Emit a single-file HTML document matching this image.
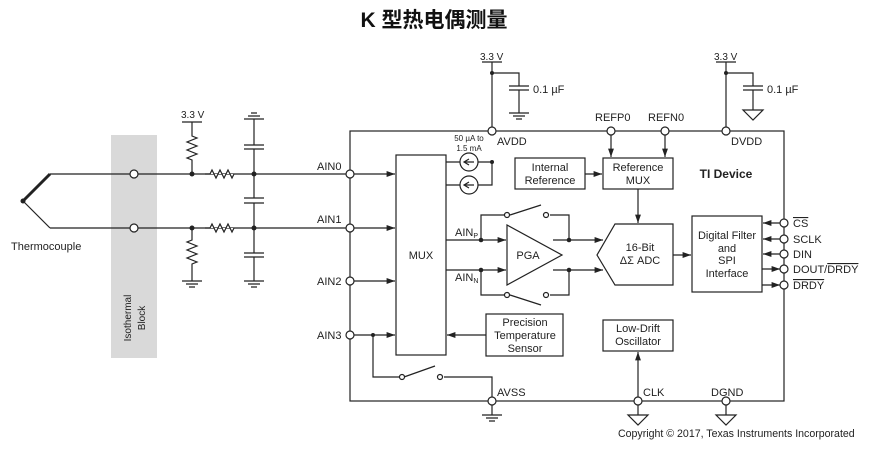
<!DOCTYPE html>
<html><head><meta charset="utf-8"><style>
body{margin:0;background:#fff}
svg{display:block}
text{font-family:"Liberation Sans",sans-serif;font-size:11px;fill:#222}
</style></head><body>
<svg width="887" height="458" viewBox="0 0 887 458" xmlns="http://www.w3.org/2000/svg">
<defs>
<marker id="a" viewBox="0 0 10 10" refX="10" refY="5" markerWidth="7" markerHeight="7" orient="auto"><path d="M0,1.5 L10,5 L0,8.5z" fill="#222"/></marker>
</defs>
<text x="434" y="27" text-anchor="middle" style="font-family:'Liberation Sans','Noto Sans CJK SC',sans-serif;font-size:21px;font-weight:bold;fill:#111">K 型热电偶测量</text>
<rect x="111" y="135" width="46" height="223" fill="#d9d9d9"/>
<text transform="translate(131,318) rotate(-90)" text-anchor="middle" style="font-size:10px">Isothermal</text>
<text transform="translate(145,318) rotate(-90)" text-anchor="middle" style="font-size:10px">Block</text>
<g stroke="#222" stroke-width="1.2" fill="none">
<path d="M23,201 L50,174" stroke-width="3"/>
<path d="M23,201 L50,228"/>
<path d="M50,174 H350 M50,228 H350"/>
<path d="M192,174 V160 l-5,-2 10,-4 -10,-4 10,-4 -10,-4 10,-4 -5,-2 V122"/>
<path d="M182,122 H202"/>
<path d="M192,228 V240 l-5,2 10,4 -10,4 10,4 -10,4 10,4 -5,2 V281"/>
<path d="M182,281 H202 M186,284 H198 M189,287 H195"/>
<path d="M205,174 h5 l2,-4 4,8 4,-8 4,8 4,-8 4,8 2,-4" fill="#fff"/>
<path d="M205,228 h5 l2,-4 4,8 4,-8 4,8 4,-8 4,8 2,-4" fill="#fff"/>
<path d="M254,119 V145 M244,145 H264 M244,149 H264 M254,149 V198 M244,198 H264 M244,203 H264 M254,203 V253 M244,253 H264 M244,257 H264 M254,257 V281"/>
<path d="M244,119 H264 M248,116 H260 M251,113 H257"/>
<path d="M244,281 H264 M248,284 H260 M251,287 H257"/>
<rect x="350" y="131" width="434" height="270"/>
<rect x="396" y="155" width="50" height="200"/>
<path d="M350,174 H395" marker-end="url(#a)"/>
<path d="M350,228 H395" marker-end="url(#a)"/>
<path d="M350,281 H395" marker-end="url(#a)"/>
<path d="M350,335 H395" marker-end="url(#a)"/>
<path d="M373,335 V377 H400 M404,377 L435,366 M444,377 H492 V401"/>
<path d="M492,401 V415 M482,415 H502 M486,418 H498 M489,421 H495"/>
<path d="M482,62 H502 M492,62 V131 M492,73 H519 V86 M509,86 H529 M509,90 H529 M519,90 V113 M509,113 H529 M513,116 H525 M516,119 H522"/>
<path d="M716,62 H736 M726,62 V131 M726,73 H753 V86 M743,86 H763 M743,90 H763 M753,90 V110 M743,110 H763 L753,120 Z"/>
<path d="M446,162 H460 M478,162 H492 M446,185 H460 M478,185 H492 V162"/>
<circle cx="469" cy="162" r="9" fill="#fff"/>
<circle cx="469" cy="185" r="9" fill="#fff"/>
<path d="M474,162 H465 M469,159 L464,162 469,165" />
<path d="M474,185 H465 M469,182 L464,185 469,188"/>
<rect x="515" y="158" width="70" height="31"/>
<rect x="603" y="158" width="70" height="31"/>
<path d="M585,174 H602" marker-end="url(#a)"/>
<path d="M611,131 V157" marker-end="url(#a)"/>
<path d="M665,131 V157" marker-end="url(#a)"/>
<path d="M638,189 V223" marker-end="url(#a)"/>
<path d="M507,225 L507,285 L562,255 Z"/>
<path d="M446,240 H506" marker-end="url(#a)"/>
<path d="M446,270 H506" marker-end="url(#a)"/>
<path d="M481,240 V215 H506 M510,215 L541,205 M550,215 H569 V240"/>
<path d="M481,270 V295 H506 M510,295 L541,305 M550,295 H569 V270"/>
<path d="M553,240 H603" marker-end="url(#a)"/>
<path d="M553,270 H603" marker-end="url(#a)"/>
<path d="M615,224 H673 V285 H615 L597,255 Z"/>
<path d="M673,255 H691" marker-end="url(#a)"/>
<rect x="692" y="216" width="70" height="76"/>
<path d="M780,223 H763" marker-end="url(#a)"/>
<path d="M780,239 H763" marker-end="url(#a)"/>
<path d="M780,254 H763" marker-end="url(#a)"/>
<path d="M762,269 H780" marker-end="url(#a)"/>
<path d="M762,285 H780" marker-end="url(#a)"/>
<rect x="486" y="314" width="77" height="42"/>
<path d="M486,335 H447" marker-end="url(#a)"/>
<rect x="603" y="320" width="70" height="31"/>
<path d="M638,401 V352" marker-end="url(#a)"/>
<path d="M638,401 V415 M628,415 H648 L638,425 Z"/>
<path d="M726,401 V415 M716,415 H736 L726,425 Z"/>
</g>
<g fill="#222">
<circle cx="23" cy="201" r="2.5"/>
<circle cx="192" cy="174" r="2.5"/><circle cx="192" cy="228" r="2.5"/>
<circle cx="254" cy="174" r="2.5"/><circle cx="254" cy="228" r="2.5"/>
<circle cx="373" cy="335" r="2"/>
<circle cx="492" cy="73" r="2"/><circle cx="726" cy="73" r="2"/>
<circle cx="492" cy="162" r="2"/>
<circle cx="481" cy="240" r="2.3"/><circle cx="481" cy="270" r="2.3"/>
<circle cx="569" cy="240" r="2.3"/><circle cx="569" cy="270" r="2.3"/>
</g>
<g fill="#fff" stroke="#222" stroke-width="1.2">
<circle cx="134" cy="174" r="4"/><circle cx="134" cy="228" r="4"/>
<circle cx="350" cy="174" r="4"/><circle cx="350" cy="228" r="4"/><circle cx="350" cy="281" r="4"/><circle cx="350" cy="335" r="4"/>
<circle cx="492" cy="131" r="4"/><circle cx="611" cy="131" r="4"/><circle cx="665" cy="131" r="4"/><circle cx="726" cy="131" r="4"/>
<circle cx="492" cy="401" r="4"/><circle cx="638" cy="401" r="4"/><circle cx="726" cy="401" r="4"/>
<circle cx="784" cy="223" r="4"/><circle cx="784" cy="239" r="4"/><circle cx="784" cy="254" r="4"/><circle cx="784" cy="269" r="4"/><circle cx="784" cy="285" r="4"/>
<circle cx="507" cy="215" r="2.5"/><circle cx="546" cy="215" r="2.5"/>
<circle cx="507" cy="295" r="2.5"/><circle cx="546" cy="295" r="2.5"/>
<circle cx="402" cy="377" r="2.5"/><circle cx="440" cy="377" r="2.5"/>
</g>
<text x="11" y="250">Thermocouple</text>
<text x="181" y="118" style="font-size:10px">3.3 V</text>
<text x="317" y="170">AIN0</text><text x="317" y="223">AIN1</text><text x="317" y="285">AIN2</text><text x="317" y="339">AIN3</text>
<text x="421" y="259" text-anchor="middle">MUX</text>
<text x="480" y="60" style="font-size:10px">3.3 V</text>
<text x="714" y="60" style="font-size:10px">3.3 V</text>
<text x="533" y="93">0.1 µF</text><text x="767" y="93">0.1 µF</text>
<text x="595" y="121">REFP0</text><text x="648" y="121">REFN0</text>
<text x="497" y="145">AVDD</text><text x="731" y="145">DVDD</text>
<text x="469" y="141" text-anchor="middle" style="font-size:8px">50 µA to</text>
<text x="469" y="151" text-anchor="middle" style="font-size:8px">1.5 mA</text>
<text x="550" y="171" text-anchor="middle">Internal</text><text x="550" y="184" text-anchor="middle">Reference</text>
<text x="638" y="171" text-anchor="middle">Reference</text><text x="638" y="184" text-anchor="middle">MUX</text>
<text x="726" y="178" text-anchor="middle" style="font-weight:bold;font-size:12px">TI Device</text>
<text x="455" y="236">AIN<tspan style="font-size:7px" dy="2">P</tspan></text>
<text x="455" y="281">AIN<tspan style="font-size:7px" dy="2">N</tspan></text>
<text x="528" y="259" text-anchor="middle">PGA</text>
<text x="640" y="251" text-anchor="middle">16-Bit</text><text x="640" y="264" text-anchor="middle">ΔΣ ADC</text>
<text x="727" y="239" text-anchor="middle">Digital Filter</text><text x="727" y="252" text-anchor="middle">and</text><text x="727" y="264" text-anchor="middle">SPI</text><text x="727" y="277" text-anchor="middle">Interface</text>
<text x="793" y="227" style="text-decoration:overline">CS</text>
<text x="793" y="243">SCLK</text><text x="793" y="258">DIN</text>
<text x="793" y="273">DOUT/<tspan style="text-decoration:overline">DRDY</tspan></text>
<text x="793" y="289" style="text-decoration:overline">DRDY</text>
<text x="525" y="326" text-anchor="middle">Precision</text><text x="525" y="339" text-anchor="middle">Temperature</text><text x="525" y="352" text-anchor="middle">Sensor</text>
<text x="638" y="332" text-anchor="middle">Low-Drift</text><text x="638" y="345" text-anchor="middle">Oscillator</text>
<text x="497" y="396">AVSS</text><text x="643" y="396">CLK</text><text x="711" y="396">DGND</text>
<text x="618" y="437" style="font-size:10.6px">Copyright © 2017, Texas Instruments Incorporated</text>
</svg>
</body></html>
